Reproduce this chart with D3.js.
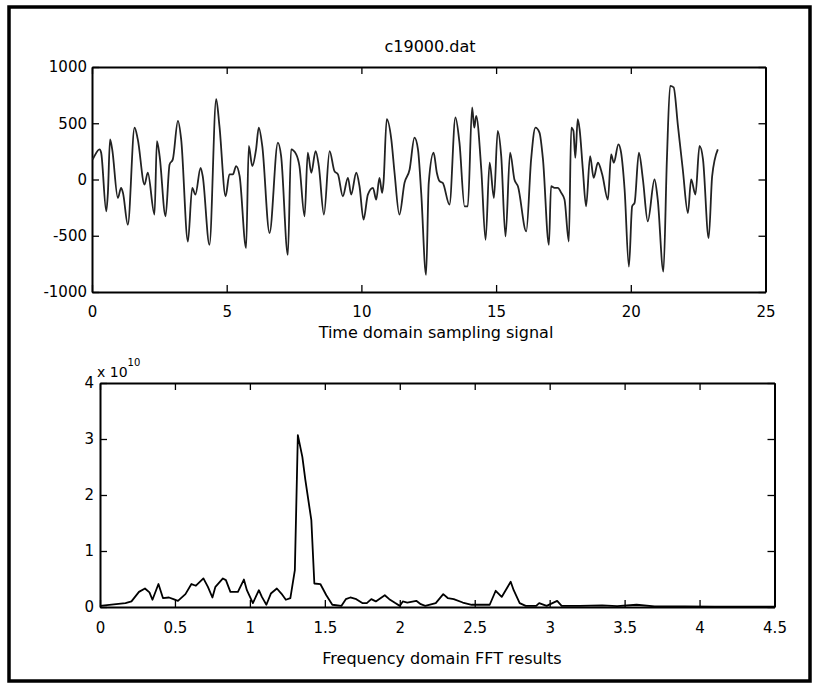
<!DOCTYPE html>
<html>
<head>
<meta charset="utf-8">
<script src="https://cdn.jsdelivr.net/npm/d3@7"></script>
<style>
  body { margin: 0; background: #fff; }
  text { font-family: "DejaVu Sans", sans-serif; fill: #000; }
</style>
</head>
<body>
<div id="chart"></div>
<script>
// time domain signal (seconds, amplitude)
var timeT = [0.03,0.09,0.28,0.34,0.53,0.59,0.67,0.75,0.96,1.08,
  1.15,1.33,1.58,1.70,1.95,2.07,2.32,2.41,2.51,2.73,
  2.88,3.00,3.19,3.31,3.56,3.72,3.84,4.03,4.11,4.36,
  4.61,4.73,4.96,5.10,5.23,5.35,5.48,5.72,5.82,5.95,
  6.09,6.19,6.32,6.59,6.90,7.02,7.27,7.39,7.58,7.70,
  7.89,8.01,8.14,8.30,8.42,8.61,8.82,9.00,9.13,9.31,
  9.50,9.62,9.81,9.93,10.08,10.24,10.43,10.55,10.67,10.77,
  10.82,10.94,11.11,11.23,11.41,11.60,11.79,11.97,12.10,12.22,
  12.40,12.50,12.68,12.80,12.90,13.02,13.27,13.49,13.64,13.83,
  13.95,14.11,14.19,14.26,14.45,14.61,14.76,14.92,15.06,15.19,
  15.35,15.52,15.68,15.81,16.12,16.30,16.46,16.61,16.74,16.96,
  17.04,17.17,17.29,17.42,17.54,17.70,17.79,17.87,17.94,18.03,
  18.10,18.22,18.34,18.49,18.62,18.78,18.94,19.15,19.27,19.37,
  19.54,19.64,19.77,19.93,20.05,20.14,20.30,20.45,20.63,20.88,
  21.00,21.21,21.34,21.46,21.59,21.75,21.93,22.12,22.24,22.40,
  22.55,22.68,22.89,23.02,23.23];
var timeV = [179,208,268,238,-283,-119,357,268,-164,-74,
  -119,-402,461,357,-45,60,-312,342,208,-327,
  134,179,521,357,-551,-74,-134,104,30,-580,
  714,476,-149,45,45,119,30,-610,298,119,
  268,461,298,-476,327,208,-670,268,223,119,
  -327,238,60,253,119,-312,253,74,45,-149,
  15,-134,60,-60,-357,-134,-74,-179,15,-119,
  -30,536,357,60,-312,-30,89,372,268,-119,
  -848,-30,238,60,-15,-30,-223,551,327,-238,
  -238,640,461,565,89,-536,149,-164,432,208,
  -506,238,0,-60,-461,179,461,417,179,-580,
  -60,-74,-74,-119,-179,-551,461,432,193,536,
  446,89,-238,208,15,149,45,-179,223,149,
  313,238,-89,-774,-238,-208,238,0,-372,0,
  -179,-818,179,833,819,476,89,-298,0,-134,
  298,179,-521,30,268];

// FFT magnitude (frequency, value in units of 1e10)
var fftF = [0,0.17,0.21,0.26,0.30,0.33,0.35,0.39,0.42,0.46,
  0.49,0.52,0.57,0.61,0.64,0.69,0.72,0.75,0.77,0.82,
  0.84,0.87,0.92,0.96,0.98,1.02,1.06,1.08,1.11,1.14,
  1.18,1.21,1.24,1.27,1.30,1.32,1.35,1.37,1.41,1.43,
  1.47,1.51,1.55,1.61,1.64,1.67,1.71,1.75,1.78,1.81,
  1.84,1.90,1.93,1.97,2.00,2.02,2.05,2.11,2.14,2.17,
  2.24,2.29,2.32,2.36,2.42,2.48,2.60,2.64,2.68,2.74,
  2.76,2.80,2.84,2.91,2.93,2.98,3.05,3.08,3.13,3.2,
  3.35,3.45,3.58,3.7,3.9,4.1,4.3,4.5];
var fftA = [0.02,0.07,0.10,0.27,0.33,0.26,0.13,0.41,0.16,0.17,
  0.14,0.11,0.23,0.41,0.38,0.51,0.36,0.17,0.36,0.51,
  0.48,0.27,0.27,0.49,0.30,0.07,0.30,0.18,0.04,0.24,
  0.33,0.24,0.13,0.16,0.66,3.07,2.68,2.27,1.55,0.42,
  0.41,0.21,0.04,0.02,0.14,0.17,0.14,0.07,0.07,0.14,
  0.10,0.21,0.14,0.07,0.02,0.10,0.08,0.11,0.05,0.02,
  0.07,0.23,0.16,0.14,0.08,0.04,0.04,0.29,0.18,0.45,
  0.30,0.07,0.02,0.02,0.07,0.02,0.11,0.02,0.02,0.02,
  0.03,0.015,0.04,0.01,0.01,0.005,0.005,0.005];

// tick values
var timeXTicks = [0, 5, 10, 15, 20, 25];
var timeYTicks = [-1000, -500, 0, 500, 1000];
var fftXTicks = [0, 0.5, 1, 1.5, 2, 2.5, 3, 3.5, 4, 4.5];
var fftYTicks = [0, 1, 2, 3, 4];

var svgWidth = 817;
var svgHeight = 687;

var svg = d3.select('#chart')
  .append('svg')
  .attr('width', svgWidth)
  .attr('height', svgHeight);

// outer frame
svg.append('rect')
  .attr('x', 9).attr('y', 7)
  .attr('width', 801).attr('height', 674)
  .attr('fill', 'none')
  .attr('stroke', '#000')
  .attr('stroke-width', 3.5);

// plain number labels, no thousands separator
var plain = d => String(d);

// draws a boxed matlab-style axes with inward ticks
function drawPanel(opt) {
  var x = d3.scaleLinear().domain(opt.xDomain).range([opt.left, opt.right]);
  var y = d3.scaleLinear().domain(opt.yDomain).range([opt.bottom, opt.top]);
  var g = svg.append('g');

  // bottom axis
  g.append('g')
    .attr('transform', `translate(0,${opt.bottom})`)
    .call(d3.axisBottom(x).tickValues(opt.xTicks).tickSize(-7).tickSizeOuter(0)
      .tickPadding(opt.xPad).tickFormat(plain));
  // top axis (no labels)
  g.append('g')
    .attr('transform', `translate(0,${opt.top})`)
    .call(d3.axisTop(x).tickValues(opt.xTicks).tickSize(-7).tickSizeOuter(0).tickFormat(''));
  // left axis
  g.append('g')
    .attr('transform', `translate(${opt.left},0)`)
    .call(d3.axisLeft(y).tickValues(opt.yTicks).tickSize(-7).tickSizeOuter(0)
      .tickPadding(opt.yPad).tickFormat(plain));
  // right axis (no labels)
  g.append('g')
    .attr('transform', `translate(${opt.right},0)`)
    .call(d3.axisRight(y).tickValues(opt.yTicks).tickSize(-7).tickSizeOuter(0).tickFormat(''));

  g.selectAll('.domain').attr('stroke', '#000').attr('stroke-width', 2);
  g.selectAll('.tick line').attr('stroke', '#000').attr('stroke-width', 1.3);
  g.selectAll('.tick text')
    .attr('font-size', 15)
    .attr('font-family', '"DejaVu Sans", sans-serif')
    .attr('fill', '#000');

  var line = d3.line()
    .x(d => x(d[0]))
    .y(d => y(d[1]))
    .curve(opt.curve);

  g.append('path')
    .datum(d3.zip(opt.xs, opt.ys))
    .attr('fill', 'none')
    .attr('stroke', opt.color)
    .attr('stroke-width', 1.8)
    .attr('stroke-linejoin', 'round')
    .attr('d', line);

  return { x: x, y: y, g: g };
}

// top panel: time domain
var top = drawPanel({
  left: 92, right: 765.5, top: 67, bottom: 292,
  xDomain: [0, 25], yDomain: [-1000, 1000],
  xTicks: timeXTicks, yTicks: timeYTicks,
  xPad: 14, yPad: 5,
  xs: timeT, ys: timeV,
  curve: d3.curveMonotoneX,
  color: '#222'
});

svg.append('text')
  .attr('x', 430).attr('y', 52)
  .attr('text-anchor', 'middle')
  .attr('font-size', 16)
  .text('c19000.dat');

svg.append('text')
  .attr('x', 436).attr('y', 338)
  .attr('text-anchor', 'middle')
  .attr('font-size', 16)
  .text('Time domain sampling signal');

// bottom panel: FFT
var bot = drawPanel({
  left: 100, right: 774.5, top: 383, bottom: 607,
  xDomain: [0, 4.5], yDomain: [0, 4],
  xTicks: fftXTicks, yTicks: fftYTicks,
  xPad: 15, yPad: 6,
  xs: fftF, ys: fftA,
  curve: d3.curveLinear,
  color: '#000'
});

// exponent label
var expLabel = svg.append('text')
  .attr('x', 97).attr('y', 377)
  .attr('font-size', 14);
expLabel.append('tspan').text('x 10');
expLabel.append('tspan')
  .attr('dy', -11)
  .attr('font-size', 10)
  .text('10');

svg.append('text')
  .attr('x', 442).attr('y', 664)
  .attr('text-anchor', 'middle')
  .attr('font-size', 16)
  .text('Frequency domain FFT results');
</script>
</body>
</html>
